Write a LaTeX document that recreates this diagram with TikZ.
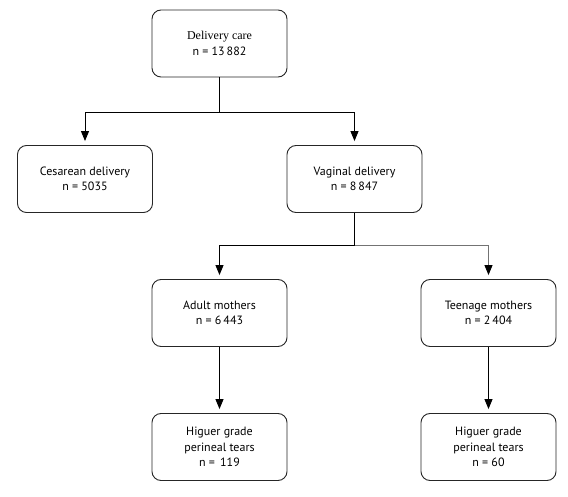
\documentclass[tikz,border=0pt]{standalone}
\usepackage{fontspec}
\setmainfont{PT Sans}
\newfontfamily\serifx{Liberation Serif}
\usetikzlibrary{arrows.meta}
\begin{document}
\begin{tikzpicture}[x=1pt,y=-1pt,
  box/.style={draw=black!85,line width=0.9pt,rounded corners=9pt,minimum width=135pt,minimum height=67pt,align=center,font=\fontsize{12}{15.5}\selectfont,inner sep=2pt},
  conn/.style={line width=0.9pt,black},
  arr/.style={conn,-{Triangle[width=8pt,length=10pt,color=black]},shorten >=4pt}]
\useasboundingbox (0,0) rectangle (568,497);
\node[box] (top) at (219.5,43.5) {{\serifx Delivery care}\\n = 13\,882};
\node[box] (ces) at (85,179) {Cesarean delivery\\n = 5035};
\node[box] (vag) at (354.5,179) {Vaginal delivery\\n = 8\,847};
\node[box] (adu) at (219.5,313) {Adult mothers\\n = 6\,443};
\node[box] (tee) at (488.5,313) {Teenage mothers\\n = 2\,404};
\node[box] (adt) at (219.5,447) {Higuer grade\\perineal tears\\n = \,119};
\node[box] (tet) at (488.5,447) {Higuer grade\\perineal tears\\n = 60};
\coordinate (j1) at (219.5,112.5);
\coordinate (j2) at (354.5,245);
\draw[conn] (top.south) -- (j1);
\draw[arr] (j1) -| (ces.north);
\draw[arr] (j1) -| (vag.north);
\draw[conn] (vag.south) -- (j2);
\draw[arr] (j2) -| (adu.north);
\draw[arr,draw=black!55] (j2) -| (tee.north);
\draw[arr] (adu.south) -- (adt.north);
\draw[arr] (tee.south) -- (tet.north);
\end{tikzpicture}
\end{document}
